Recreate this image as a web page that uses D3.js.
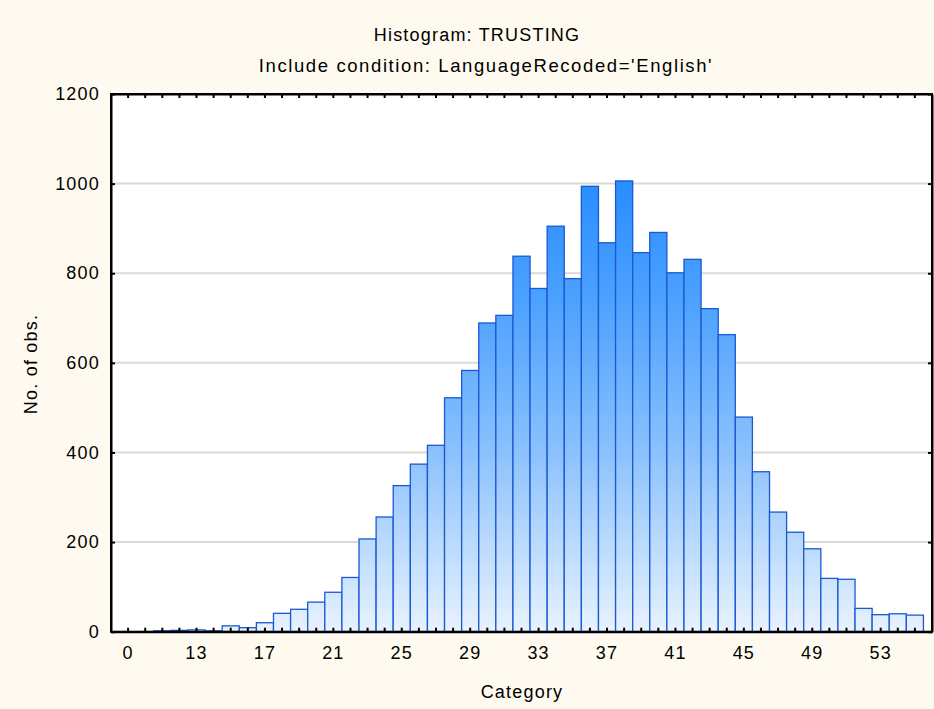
<!DOCTYPE html>
<html>
<head>
<meta charset="utf-8">
<script src="https://cdn.jsdelivr.net/npm/d3@7"></script>
<style>
  html, body { margin: 0; padding: 0; background: #fefaef; }
  svg { display: block; }
  text { font-family: "Liberation Sans", Arial, sans-serif; fill: #000; }
</style>
</head>
<body>
<div id="chart"></div>
<script>
// ---- data ----
const categories = ["0","10","11","12","13","14","15","16","17","18","19","20","21","22","23","24","25","26","27","28","29","30","31","32","33","34","35","36","37","38","39","40","41","42","43","44","45","46","47","48","49","50","51","52","53","54","55"];
const counts = [0,0,2,3,4,2,13,9,20,41,50,66,88,121,207,256,326,374,416,522,583,689,706,838,766,905,788,994,868,1006,846,891,801,831,721,663,479,357,267,222,185,119,117,52,38,40,37];
const xTickLabels = ["0","13","17","21","25","29","33","37","41","45","49","53"];
const yTicks = [0,200,400,600,800,1000,1200];
const titleText = "Histogram: TRUSTING";
const subtitleText = "Include condition: LanguageRecoded='English'";
const xTitle = "Category";
const yTitle = "No. of obs.";

// ---- layout ----
const W = 934, H = 709;
const pL = 111, pR = 932, pT = 94, pB = 631.7;
const FS = 18, LS = "1.2px";

const svg = d3.select("#chart").append("svg").attr("width", W).attr("height", H);
svg.append("rect").attr("width", W).attr("height", H).attr("fill", "#fefaef");

const x = d3.scaleBand().domain(categories).range([pL, pR]).paddingInner(0).paddingOuter(0.5);
const y = d3.scaleLinear().domain([0, 1200]).range([pB, pT]);

const defs = svg.append("defs");
const grad = defs.append("linearGradient").attr("id", "barGrad")
  .attr("gradientUnits", "userSpaceOnUse")
  .attr("x1", 0).attr("x2", 0).attr("y1", pT).attr("y2", pB);
grad.append("stop").attr("offset", "0").attr("stop-color", "#1a84ff");
grad.append("stop").attr("offset", "0.17").attr("stop-color", "#2a8eff");
grad.append("stop").attr("offset", "0.39").attr("stop-color", "#4da2ff");
grad.append("stop").attr("offset", "0.66").attr("stop-color", "#8ac0fd");
grad.append("stop").attr("offset", "1").attr("stop-color", "#e8f2fe");

// plot background
svg.append("rect").attr("x", pL).attr("y", pT).attr("width", pR - pL).attr("height", pB - pT).attr("fill", "#fff");

// gridlines
svg.append("g").selectAll("line").data(yTicks.filter(d => d > 0 && d < 1200)).join("line")
  .attr("x1", pL).attr("x2", pR)
  .attr("y1", d => y(d)).attr("y2", d => y(d))
  .attr("stroke", "#d9d9d9").attr("stroke-width", 2);

// bars
const data = categories.map((c, i) => ({ c, v: counts[i] }));
svg.append("g").selectAll("rect").data(data.filter(d => d.v > 0)).join("rect")
  .attr("x", d => x(d.c))
  .attr("y", d => y(d.v))
  .attr("width", x.bandwidth())
  .attr("height", d => y(0) - y(d.v))
  .attr("fill", "url(#barGrad)")
  .attr("stroke", "#1b58d4")
  .attr("stroke-width", 1.3);

// axes
const fmtX = d => xTickLabels.includes(d) ? d : "";
const axB = svg.append("g").attr("transform", `translate(0,${pB})`)
  .call(d3.axisBottom(x).tickFormat(fmtX).tickSizeInner(-4).tickSizeOuter(0).tickPadding(15));
const axT = svg.append("g").attr("transform", `translate(0,${pT})`)
  .call(d3.axisTop(x).tickFormat("").tickSizeInner(-4).tickSizeOuter(0));
const axL = svg.append("g").attr("transform", `translate(${pL},0)`)
  .call(d3.axisLeft(y).tickValues(yTicks).tickFormat(d3.format("d")).tickSizeInner(-4).tickSizeOuter(0).tickPadding(11));
const axR = svg.append("g").attr("transform", `translate(${pR},0)`)
  .call(d3.axisRight(y).tickValues(yTicks).tickFormat("").tickSizeInner(-4).tickSizeOuter(0));

[axB, axT, axL, axR].forEach(g => {
  g.select(".domain").attr("stroke", "#000").attr("stroke-width", 2);
  g.selectAll(".tick line").attr("stroke", "#000").attr("stroke-width", 2);
  g.selectAll("text").attr("font-family", "Liberation Sans, Arial, sans-serif")
    .attr("font-size", FS).attr("fill", "#000").style("letter-spacing", LS);
});
axB.selectAll("text").attr("dy", "0.71em");

// frame
svg.append("rect").attr("x", pL).attr("y", pT).attr("width", pR - pL).attr("height", pB - pT)
  .attr("fill", "none").attr("stroke", "#000").attr("stroke-width", 2);

// titles
svg.append("text").attr("x", 477).attr("y", 41).attr("text-anchor", "middle")
  .attr("font-size", FS).style("letter-spacing", LS).text(titleText);
svg.append("text").attr("x", 486).attr("y", 72).attr("text-anchor", "middle")
  .attr("font-size", 18.5).style("letter-spacing", "1.6px").text(subtitleText);
svg.append("text").attr("x", 522).attr("y", 698).attr("text-anchor", "middle")
  .attr("font-size", FS).style("letter-spacing", LS).text(xTitle);
svg.append("text").attr("transform", "translate(37,364) rotate(-90)").attr("text-anchor", "middle")
  .attr("font-size", FS).style("letter-spacing", LS).text(yTitle);
</script>
</body>
</html>
